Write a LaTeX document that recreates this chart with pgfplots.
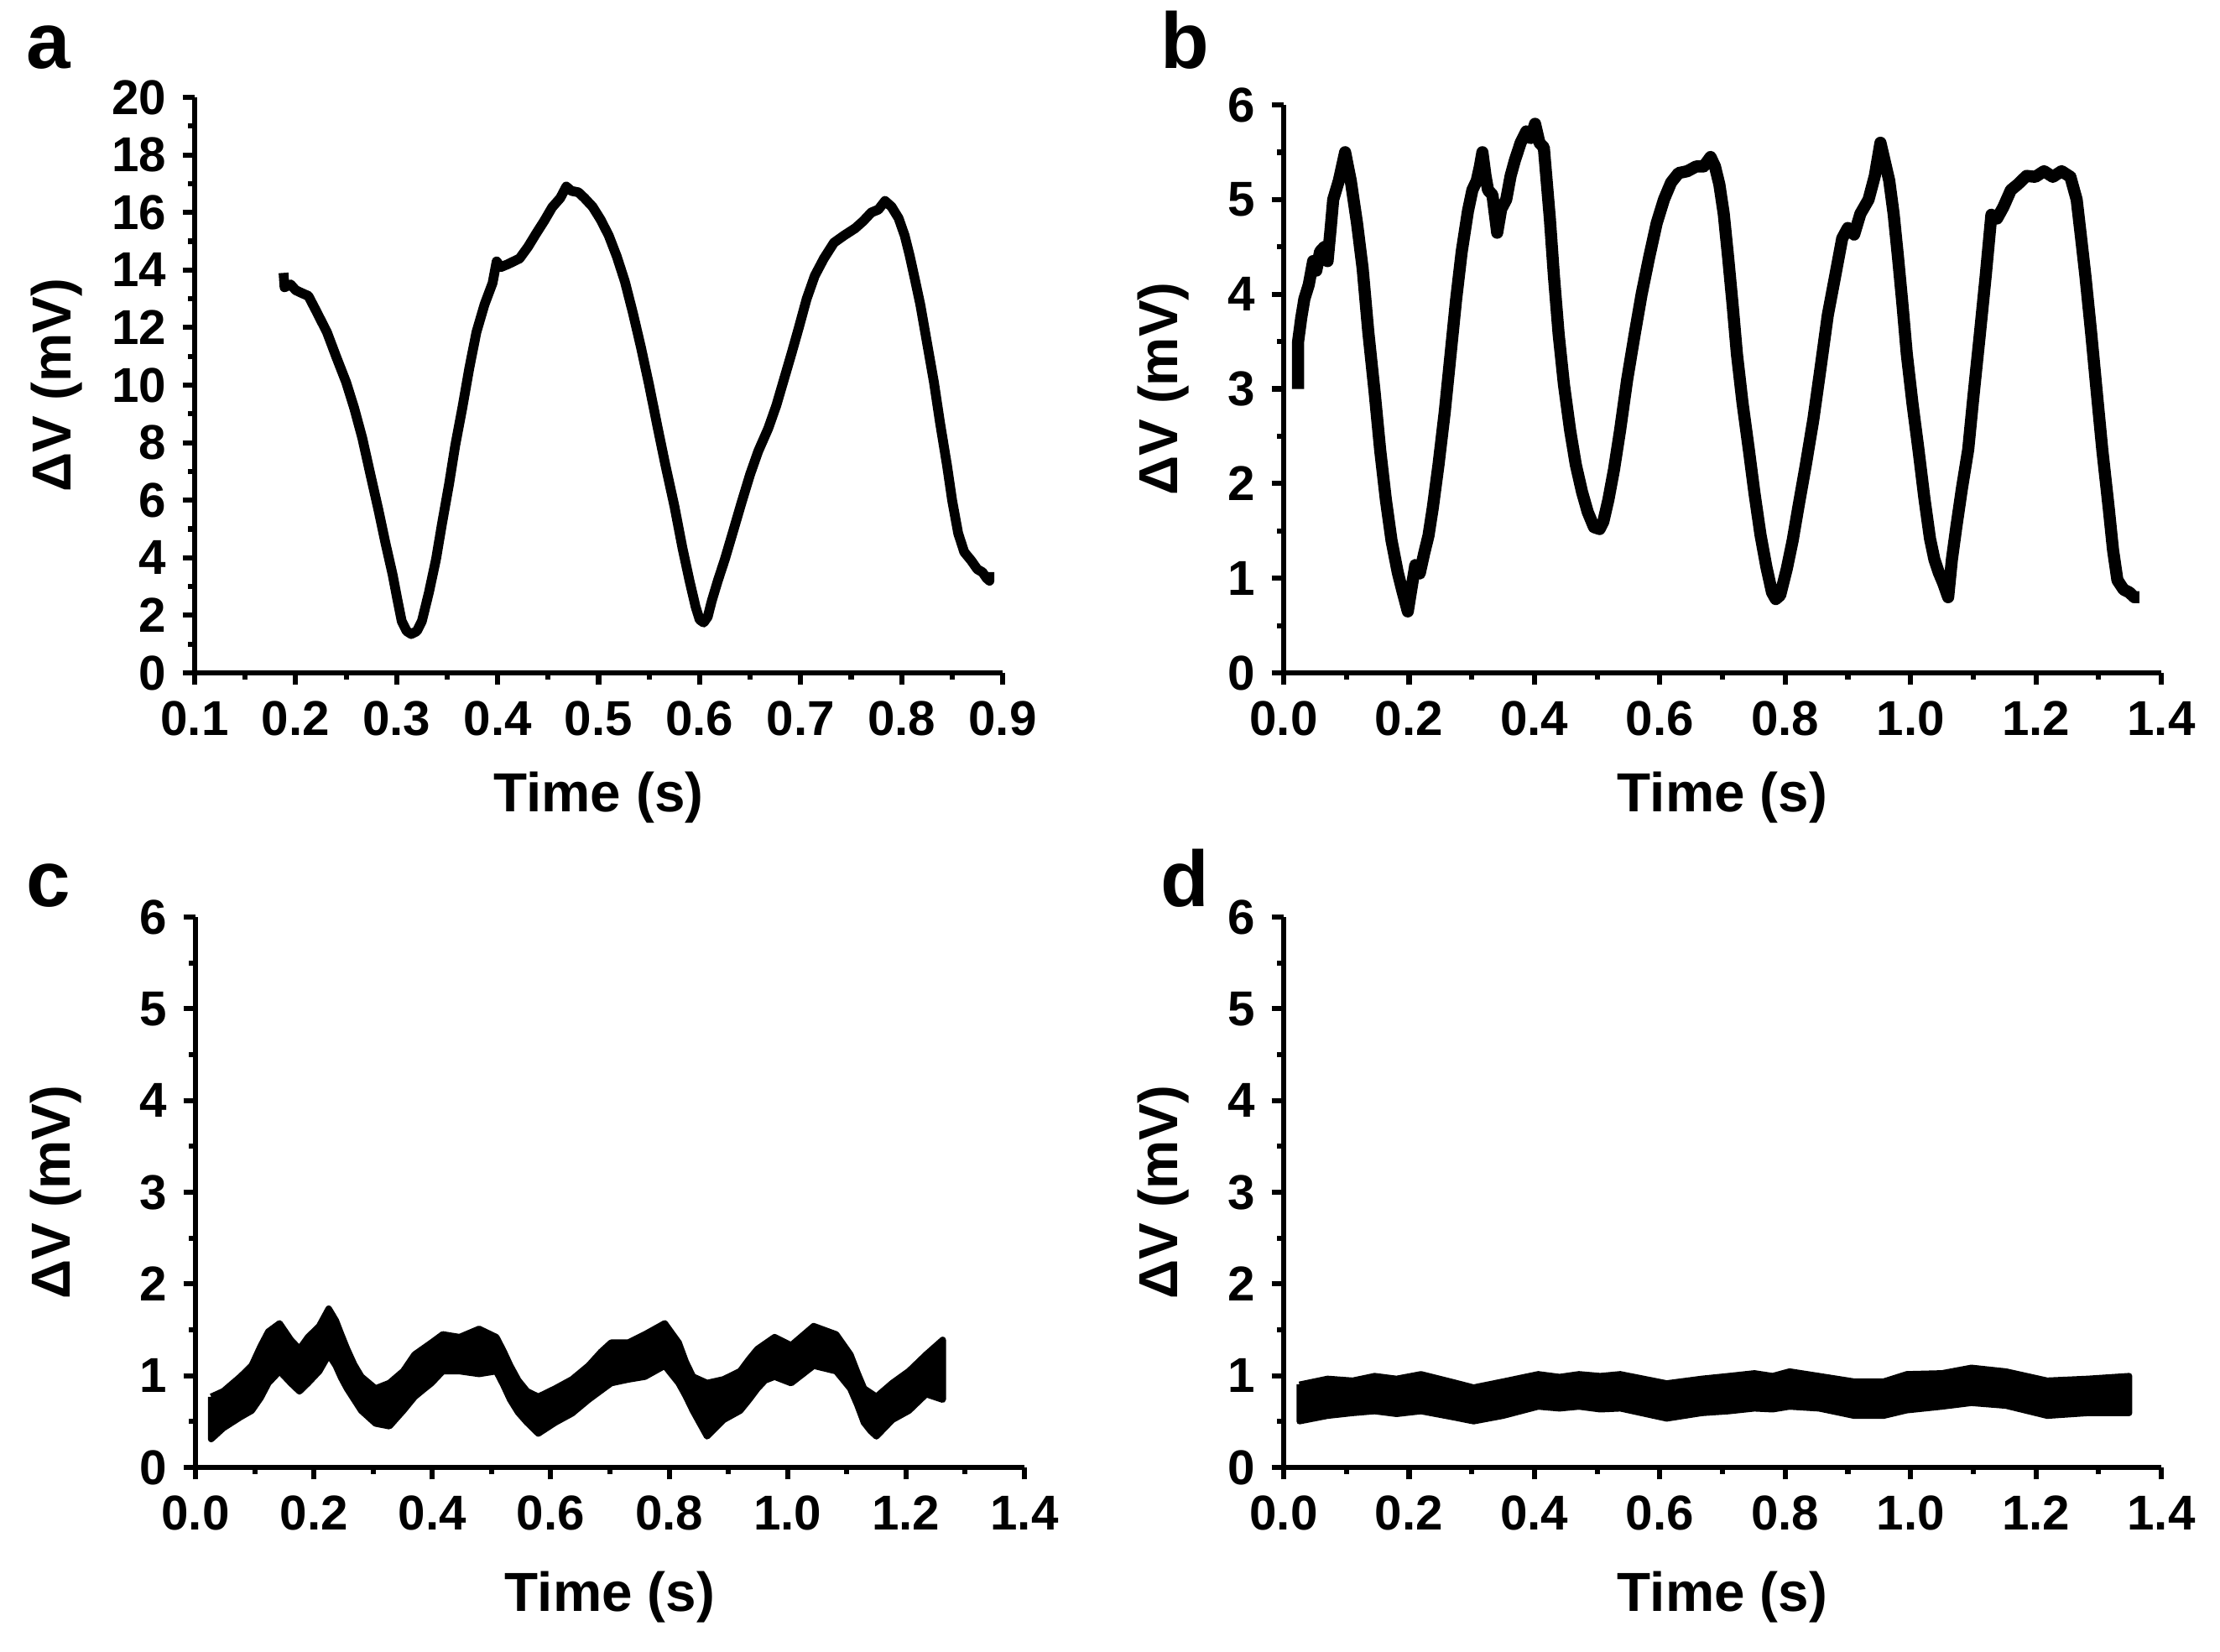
\documentclass[border=0pt]{standalone}
\usepackage{fontspec}
\setmainfont{Liberation Sans}
\usepackage{pgfplots}
\pgfplotsset{compat=1.18}
\pgfplotsset{
  myax/.style={
    scale only axis, anchor=south west,
    axis lines=left, axis line style={-, line width=1.2pt},
    enlargelimits=false,
    tick align=outside, major tick length=2.6pt, minor tick length=1.4pt,
    every tick/.style={black, line width=1.1pt},
    minor tick num=1,
    /pgf/number format/assume math mode=true,
    tick label style={font=\bfseries\fontsize{10.5}{12}\selectfont},
    label style={font=\bfseries\fontsize{11.8}{14}\selectfont},
    xlabel={Time (s)}, ylabel={ΔV (mV)},
    xticklabel style={/pgf/number format/.cd, fixed, fixed zerofill, precision=1},
    yticklabel style={/pgf/number format/.cd, fixed, precision=0},
  }
}
\begin{document}
\begin{tikzpicture}
\path (0pt,0pt) rectangle (476.28pt,-354.24pt);
% panel a
\begin{axis}[myax, at={(41.76pt,-144.36pt)}, width=173.34pt, height=123.48pt,
  xmin=0.1, xmax=0.9, xtick={0.1,0.2,...,0.9}, ymin=0, ymax=20, ytick={0,2,...,20},
  xlabel style={at={(axis description cs:0.5,-0.216)}, anchor=center},
  ylabel style={at={(axis description cs:-0.171,0.5)}, anchor=center}]
\addplot[black, line width=2.1pt, line join=round] coordinates {
(0.188,13.9)(0.189,13.4)(0.195,13.5)(0.2,13.3)(0.206,13.2)(0.2126,13.1)(0.22,12.6)(0.231,11.84)(0.24,11.0)(0.25,10.1)(0.258,9.2)(0.266,8.16)(0.274,6.9)(0.282,5.66)(0.289,4.5)(0.296,3.42)(0.301,2.5)(0.305,1.8)(0.31,1.45)(0.3145,1.35)(0.32,1.45)(0.325,1.8)(0.332,2.8)(0.339,3.95)(0.345,5.2)(0.352,6.58)(0.358,7.9)(0.365,9.2)(0.372,10.6)(0.379,11.84)(0.387,12.8)(0.395,13.55)(0.399,14.3)(0.403,14.1)(0.41,14.2)(0.4217,14.4)(0.43,14.8)(0.438,15.26)(0.446,15.7)(0.454,16.18)(0.462,16.5)(0.468,16.9)(0.473,16.75)(0.48,16.7)(0.486,16.5)(0.494,16.2)(0.502,15.75)(0.51,15.2)(0.518,14.47)(0.526,13.6)(0.534,12.5)(0.542,11.3)(0.55,10.0)(0.558,8.6)(0.566,7.24)(0.575,5.8)(0.583,4.34)(0.59,3.2)(0.596,2.3)(0.6,1.85)(0.604,1.75)(0.608,1.95)(0.612,2.5)(0.618,3.2)(0.625,3.95)(0.633,4.9)(0.6415,5.92)(0.65,6.9)(0.658,7.7)(0.668,8.5)(0.676,9.3)(0.684,10.26)(0.691,11.1)(0.698,11.97)(0.706,13.0)(0.714,13.8)(0.723,14.4)(0.733,14.95)(0.743,15.2)(0.754,15.45)(0.762,15.7)(0.77,16.0)(0.777,16.1)(0.7836,16.4)(0.79,16.2)(0.797,15.8)(0.803,15.2)(0.808,14.5)(0.813,13.7)(0.8185,12.8)(0.825,11.5)(0.832,10.1)(0.838,8.7)(0.845,7.2)(0.85,6.0)(0.856,4.85)(0.862,4.2)(0.869,3.9)(0.875,3.6)(0.88,3.5)(0.884,3.3)(0.887,3.2)(0.887,3.5)
};
\end{axis}
% panel b
\begin{axis}[myax, at={(275.4pt,-144.36pt)}, width=188.28pt, height=121.86pt,
  xmin=0, xmax=1.4, xtick={0,0.2,...,1.4}, ymin=0, ymax=6, ytick={0,1,...,6},
  xlabel style={at={(axis description cs:0.5,-0.219)}, anchor=center},
  ylabel style={at={(axis description cs:-0.137,0.5)}, anchor=center}]
\addplot[black, line width=2.6pt, line join=round] coordinates {
(0.023,3.0)(0.023,3.5)(0.028,3.75)(0.033,3.95)(0.04,4.1)(0.047,4.35)(0.052,4.25)(0.058,4.45)(0.065,4.5)(0.07,4.35)(0.075,4.7)(0.079,5.0)(0.088,5.2)(0.098,5.5)(0.107,5.2)(0.117,4.75)(0.126,4.27)(0.135,3.6)(0.145,2.97)(0.154,2.35)(0.163,1.83)(0.172,1.4)(0.182,1.06)(0.19,0.85)(0.198,0.65)(0.204,0.9)(0.21,1.14)(0.217,1.05)(0.224,1.26)(0.231,1.45)(0.238,1.75)(0.247,2.2)(0.257,2.76)(0.266,3.35)(0.275,3.94)(0.284,4.45)(0.294,4.88)(0.301,5.1)(0.308,5.2)(0.313,5.35)(0.317,5.5)(0.322,5.25)(0.326,5.1)(0.333,5.05)(0.3406,4.65)(0.347,4.9)(0.355,5.0)(0.362,5.25)(0.3686,5.41)(0.378,5.6)(0.387,5.72)(0.394,5.65)(0.401,5.8)(0.408,5.6)(0.415,5.55)(0.4246,4.8)(0.431,4.2)(0.4386,3.58)(0.447,3.05)(0.457,2.56)(0.466,2.2)(0.476,1.91)(0.485,1.7)(0.495,1.54)(0.504,1.52)(0.51,1.6)(0.518,1.83)(0.527,2.15)(0.5366,2.56)(0.548,3.1)(0.56,3.58)(0.571,4.0)(0.583,4.39)(0.595,4.75)(0.6066,5.0)(0.618,5.18)(0.63,5.28)(0.644,5.3)(0.658,5.35)(0.67,5.35)(0.681,5.45)(0.688,5.35)(0.695,5.16)(0.702,4.85)(0.709,4.39)(0.716,3.9)(0.723,3.37)(0.732,2.85)(0.742,2.36)(0.751,1.9)(0.7606,1.46)(0.77,1.12)(0.779,0.85)(0.785,0.78)(0.792,0.82)(0.8026,1.1)(0.812,1.4)(0.821,1.75)(0.833,2.2)(0.845,2.68)(0.856,3.2)(0.868,3.78)(0.88,4.2)(0.891,4.59)(0.9,4.7)(0.91,4.63)(0.92,4.85)(0.933,5.0)(0.943,5.25)(0.952,5.6)(0.959,5.4)(0.966,5.2)(0.973,4.85)(0.98,4.39)(0.987,3.9)(0.994,3.37)(1.003,2.85)(1.0126,2.36)(1.022,1.85)(1.031,1.42)(1.038,1.2)(1.045,1.06)(1.052,0.95)(1.06,0.8)(1.066,1.2)(1.073,1.54)(1.082,1.95)(1.092,2.36)(1.1,2.9)(1.1106,3.58)(1.12,4.2)(1.129,4.84)(1.138,4.8)(1.148,4.92)(1.16,5.1)(1.171,5.16)(1.185,5.25)(1.199,5.24)(1.213,5.3)(1.227,5.24)(1.241,5.3)(1.255,5.24)(1.265,5.0)(1.272,4.6)(1.279,4.19)(1.288,3.6)(1.297,2.97)(1.306,2.35)(1.316,1.75)(1.323,1.3)(1.33,0.98)(1.34,0.88)(1.349,0.85)(1.357,0.8)(1.365,0.8)
};
\end{axis}
% panel c
\begin{axis}[myax, at={(41.94pt,-314.82pt)}, width=177.84pt, height=118.08pt,
  xmin=0, xmax=1.4, xtick={0,0.2,...,1.4}, ymin=0, ymax=6, ytick={0,1,...,6},
  xlabel style={at={(axis description cs:0.5,-0.235)}, anchor=center},
  ylabel style={at={(axis description cs:-0.168,0.5)}, anchor=center}]
\addplot[black, fill=black, line width=1.4pt, line join=round] coordinates {
(0.0266,0.77)(0.047,0.83)(0.076,0.99)(0.095,1.11)(0.11,1.32)(0.123,1.48)(0.142,1.57)(0.161,1.39)(0.1756,1.29)(0.19,1.42)(0.209,1.54)(0.225,1.73)(0.237,1.60)(0.246,1.45)(0.256,1.29)(0.268,1.12)(0.28,0.99)(0.304,0.86)(0.3275,0.92)(0.351,1.05)(0.37,1.23)(0.3986,1.36)(0.4176,1.45)(0.446,1.42)(0.479,1.51)(0.508,1.42)(0.52,1.27)(0.5315,1.11)(0.545,0.95)(0.56,0.83)(0.579,0.77)(0.6075,0.86)(0.636,0.96)(0.664,1.11)(0.685,1.26)(0.702,1.36)(0.731,1.36)(0.759,1.45)(0.7925,1.57)(0.816,1.36)(0.828,1.15)(0.84,0.99)(0.864,0.92)(0.892,0.96)(0.92,1.05)(0.935,1.18)(0.949,1.29)(0.978,1.42)(1.006,1.33)(1.044,1.54)(1.082,1.45)(1.106,1.23)(1.118,1.03)(1.129,0.86)(1.15,0.77)(1.177,0.92)(1.205,1.05)(1.234,1.23)(1.262,1.39)
(1.262,0.74)(1.234,0.80)(1.205,0.62)(1.177,0.52)(1.15,0.34)(1.14,0.4)(1.129,0.49)(1.118,0.68)(1.106,0.86)(1.082,1.05)(1.044,1.11)(1.006,0.92)(0.978,0.99)(0.962,0.95)(0.949,0.86)(0.935,0.74)(0.92,0.62)(0.892,0.52)(0.864,0.34)(0.852,0.48)(0.84,0.62)(0.828,0.78)(0.816,0.92)(0.7925,1.11)(0.759,0.99)(0.731,0.96)(0.702,0.92)(0.685,0.84)(0.664,0.74)(0.636,0.59)(0.6075,0.49)(0.579,0.37)(0.56,0.49)(0.545,0.6)(0.5315,0.74)(0.52,0.9)(0.508,1.05)(0.479,1.02)(0.446,1.05)(0.4176,1.05)(0.3986,0.92)(0.385,0.85)(0.37,0.77)(0.351,0.62)(0.3275,0.45)(0.304,0.48)(0.28,0.62)(0.268,0.74)(0.256,0.86)(0.246,0.98)(0.237,1.11)(0.225,1.23)(0.209,1.05)(0.19,0.92)(0.1756,0.83)(0.161,0.92)(0.142,1.05)(0.123,0.92)(0.11,0.76)(0.095,0.62)(0.076,0.55)(0.047,0.43)(0.0266,0.31)(0.0266,0.77)
};
\end{axis}
% panel d
\begin{axis}[myax, at={(275.4pt,-314.82pt)}, width=188.28pt, height=118.08pt,
  xmin=0, xmax=1.4, xtick={0,0.2,...,1.4}, ymin=0, ymax=6, ytick={0,1,...,6},
  xlabel style={at={(axis description cs:0.5,-0.235)}, anchor=center},
  ylabel style={at={(axis description cs:-0.137,0.5)}, anchor=center}]
\addplot[black, fill=black, line width=1.2pt, line join=round] coordinates {
(0.025,0.906)(0.07,0.97)(0.11,0.95)(0.145,1.00)(0.18,0.97)(0.219,1.02)(0.266,0.94)(0.303,0.875)(0.35,0.94)(0.406,1.02)(0.44,0.99)(0.471,1.02)(0.505,1.0)(0.537,1.02)(0.611,0.92)(0.667,0.97)(0.71,1.0)(0.751,1.03)(0.78,1.0)(0.807,1.05)(0.854,1.00)(0.91,0.94)(0.957,0.94)(0.994,1.02)(1.05,1.03)(1.097,1.09)(1.152,1.05)(1.218,0.95)(1.283,0.97)(1.349,1.00)
(1.349,0.59)(1.283,0.59)(1.218,0.56)(1.152,0.67)(1.097,0.70)(1.05,0.66)(0.994,0.62)(0.957,0.56)(0.91,0.56)(0.854,0.64)(0.807,0.66)(0.78,0.63)(0.751,0.64)(0.71,0.61)(0.667,0.59)(0.611,0.53)(0.537,0.64)(0.505,0.63)(0.471,0.66)(0.44,0.64)(0.406,0.66)(0.35,0.56)(0.303,0.50)(0.266,0.55)(0.219,0.61)(0.18,0.58)(0.145,0.61)(0.11,0.59)(0.07,0.56)(0.025,0.50)(0.025,0.906)
};
\end{axis}
\node[anchor=base west, inner sep=0pt, font=\bfseries\fontsize{17}{20}\selectfont] at (5.5pt,-14.58pt) {a};
\node[anchor=base west, inner sep=0pt, font=\bfseries\fontsize{17}{20}\selectfont] at (248.8pt,-14.58pt) {b};
\node[anchor=base west, inner sep=0pt, font=\bfseries\fontsize{17}{20}\selectfont] at (5.5pt,-194.4pt) {c};
\node[anchor=base west, inner sep=0pt, font=\bfseries\fontsize{17}{20}\selectfont] at (248.8pt,-194.4pt) {d};
\end{tikzpicture}
\end{document}
